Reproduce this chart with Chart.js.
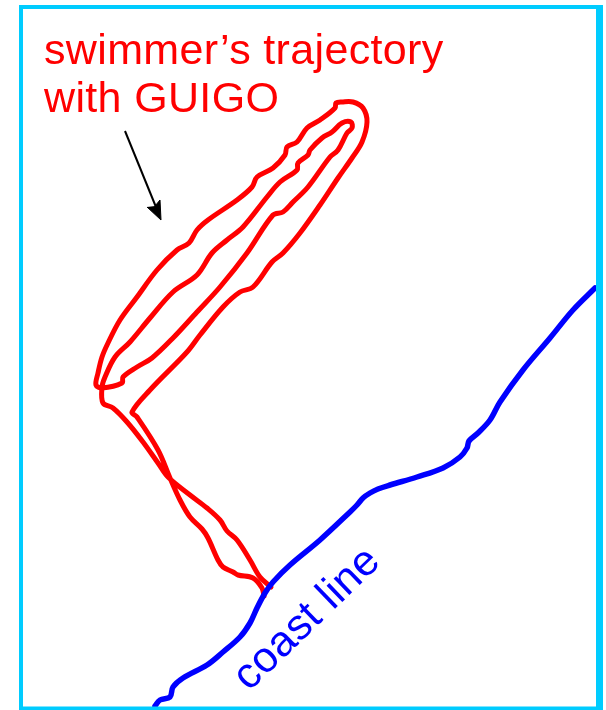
<!DOCTYPE html>
<html>
<head>
<meta charset="utf-8">
<style>
  html, body { margin: 0; padding: 0; background: #fff; }
  #wrap { position: relative; width: 606px; height: 710px; }
</style>
<script src="https://cdn.jsdelivr.net/npm/chart.js@4/dist/chart.umd.min.js"></script>
</head>
<body>
<div id="wrap"><canvas id="chart"></canvas></div>
<script>
// values (x to the right, y downward)
const swimmerX = [264,262,253,238,233,223,218,208,202,190,180,170,158,137,132,150,187,200,223,240,253,272,283,300,320,338,352,362,367,363,353,342,336,335,320,307,297,287,285,273,257,252,237,208,197,189,177,157,137,120,108,102,98,96,102,122,123,137,152,173,197,220,247,273,283,293,308,330,338,347,352,351,342,332,322,310,308,298,297,280,267,243,227,212,197,173,150,130,115,105,102,103,113,127,143,158,168,190,207,220,227,237,250,260,271];
const swimmerY = [596,588,578,575,572,567,560,538,529,517,500,478,450,417,412,390,352,335,307,292,287,262,253,233,205,178,158,142,122,108,102,102,103,108,120,128,142,147,155,168,177,187,200,220,230,243,250,270,297,320,343,357,373,385,388,383,377,367,358,338,312,287,253,215,212,202,187,157,150,133,128,122,123,132,138,150,155,163,170,182,197,227,240,253,275,292,318,342,357,377,387,403,408,422,442,463,477,495,508,520,531,540,560,577,587];
const coastX = [155,160,170,173,183,207,223,240,250,257,265,273,290,320,350,357,363,370,378,390,417,443,460,467,469,478,490,500,523,550,573,595];
const coastY = [706,700,697,687,678,665,652,637,623,608,593,582,565,540,512,505,498,493,489,485,477,468,457,448,441,433,420,402,370,338,310,288];
const arrowX = [125,158];
const arrowY = [131,212];
const arrowHeadX = [147,161,160,155];
const arrowHeadY = [207,220,200,206];
const frameX = [599.5,21,21,599.5];
const frameY = [7,7,708.5,708.5];
const frameRightX = [599.5,599.5];
const frameRightY = [5,710];

const labelTop = 'swimmer\u2019s trajectory';
const labelBottom = 'with GUIGO';
const labelCoast = 'coast line';

function pts(xs, ys) { return xs.map((x, i) => ({ x: x, y: ys[i] })); }

const labels = {
  id: 'labels',
  afterDatasetsDraw(chart) {
    const c = chart.ctx, sx = chart.scales.x, sy = chart.scales.y;
    c.save();
    c.font = '43px "Liberation Sans"';
    c.letterSpacing = '0.35px';
    c.textBaseline = 'alphabetic';
    c.fillStyle = '#ff0000';
    c.fillText(labelTop, sx.getPixelForValue(44), sy.getPixelForValue(64));
    c.fillText(labelBottom, sx.getPixelForValue(44), sy.getPixelForValue(112));
    c.fillStyle = '#0000ff';
    c.translate(sx.getPixelForValue(249), sy.getPixelForValue(692));
    c.rotate(-44 * Math.PI / 180);
    c.fillText(labelCoast, 0, 0);
    c.restore();
  }
};

new Chart(document.getElementById('chart'), {
  type: 'scatter',
  data: {
    datasets: [
      { data: pts(frameX, frameY), borderColor: '#00ccff', borderWidth: 4, borderJoinStyle: 'miter', showLine: true, pointRadius: 0, clip: false },
      { data: pts(frameRightX, frameRightY), borderColor: '#00ccff', borderWidth: 7, showLine: true, pointRadius: 0, clip: false },
      { data: pts(coastX, coastY), borderColor: '#0000ff', borderWidth: 5.5, tension: 0.35, borderCapStyle: 'round', borderJoinStyle: 'round', showLine: true, pointRadius: 0 },
      { data: pts(swimmerX, swimmerY), borderColor: '#ff0000', borderWidth: 5, tension: 0.35, borderCapStyle: 'round', borderJoinStyle: 'round', showLine: true, pointRadius: 0 },
      { data: pts(arrowX, arrowY), borderColor: '#000000', borderWidth: 2, showLine: true, pointRadius: 0 },
      { data: pts(arrowHeadX, arrowHeadY), borderColor: '#000000', backgroundColor: '#000000', borderWidth: 1, fill: 'shape', showLine: true, pointRadius: 0 }
    ]
  },
  options: {
    responsive: true,
    maintainAspectRatio: false,
    animation: false,
    layout: { padding: 0 },
    plugins: { legend: { display: false }, tooltip: { enabled: false } },
    scales: {
      x: { type: 'linear', min: 0, max: 606, display: false },
      y: { type: 'linear', min: 0, max: 710, reverse: true, display: false }
    }
  },
  plugins: [labels]
});
</script>
</body>
</html>
